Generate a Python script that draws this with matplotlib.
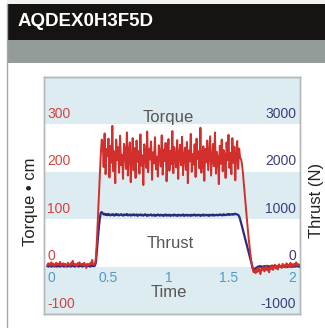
import numpy as np
import matplotlib
matplotlib.use("Agg")
import matplotlib.pyplot as plt
from matplotlib.patches import Rectangle
from matplotlib.lines import Line2D
from matplotlib.transforms import blended_transform_factory

plt.rcParams["font.family"] = ["Liberation Sans", "DejaVu Sans"]

TITLE = "AQDEX0H3F5D"
SAMPLE_STEP = 0.008  # seconds between samples

# Torque (N·cm) samples
torque_ncm = [
    # idle
    4, 7, 2, 5, 9, 3, 6, 1, 5, 8, 3, 6, 4, 10, 2, 5, 7, 3, 6, 0,
    4, 8, 5, 2, 7, 4, 12, 3, 6, 5, 1, 7, 4, 9, 3, 5, 6, 2, 8, 4,
    -3, 6, 5, 3, 7, 4, 14, 5, 3, 6,
    # ramp up
    18, 55, 100, 145, 190, 235, 268,
    # working
    262, 210, 281, 195, 248, 233, 270, 188, 255, 219, 297, 201,
    243, 176, 268, 225, 252, 198, 276, 214, 236, 185, 259, 247,
    206, 283, 192, 240, 262, 178, 229, 271, 203, 250, 187, 266,
    221, 244, 196, 279, 213, 235, 172, 258, 230, 208, 285, 199,
    249, 226, 264, 183, 241, 218, 273, 205, 232, 190, 256, 238,
    211, 277, 194, 247, 223, 261, 180, 236, 269, 202, 244, 216,
    286, 197, 252, 228, 209, 267, 185, 239, 257, 214, 274, 193,
    233, 251, 204, 263, 176, 245, 222, 280, 200, 237, 215, 258,
    189, 270, 227, 243, 207, 293, 198, 231, 254, 181, 248, 220,
    266, 203, 238, 275, 192, 225, 259, 212, 283, 196, 242, 229,
    174, 255, 217, 268, 201, 246, 234, 187, 262, 224, 278, 208,
    240, 195, 271, 219, 253, 182, 236, 265, 206, 249, 230, 226,
    # ramp down
    215, 195, 172, 148, 124, 100, 78, 56, 37, 20, 6, -5, -12,
    # idle
    -8, -14, -5, -11, -2, -9, -16, -4, -7, -1, -10, -6, 2, -8, -3,
    -12, 0, -5, 3, -7, -2, 4, -4, 1, -6, 5, -1, 2, -3, 6,
    0, 3, -2, 7, 1, 4, -1, 8, 2, 5, 0, 6, 3, 9, 2, 5, 4,
]

# Thrust (N) samples
thrust_n = [
    # idle
    10, 0, 20, 10, 0, 10, 20, 0, 10, 10, 0, 20, 10, 0, 10, 20, 10, 0, 10, 20,
    0, 10, 10, 20, 0, 10, 20, 10, 0, 10, 10, 20, 0, 10, 20, 10, 0, 10, 20, 10,
    0, 10, 10, 20, 0, 10, 20, 10, 10, 20,
    # ramp up
    90, 330, 580, 820, 1010, 1130, 1150,
    # working
    1125, 1100, 1115, 1090, 1105, 1085, 1110, 1095, 1080, 1100,
    1090, 1105, 1075, 1095, 1110, 1085, 1100, 1080, 1095, 1105,
    1090, 1075, 1100, 1085, 1095, 1110, 1080, 1090, 1100, 1075,
    1095, 1085, 1105, 1080, 1090, 1100, 1070, 1095, 1085, 1100,
    1080, 1095, 1075, 1090, 1105, 1085, 1070, 1095, 1080, 1090,
    1100, 1075, 1085, 1095, 1070, 1090, 1080, 1100, 1085, 1075,
    1095, 1080, 1090, 1070, 1085, 1100, 1075, 1090, 1080, 1095,
    1070, 1085, 1090, 1075, 1100, 1080, 1085, 1070, 1095, 1080,
    1090, 1075, 1085, 1100, 1070, 1090, 1080, 1095, 1075, 1085,
    1090, 1070, 1095, 1080, 1085, 1100, 1075, 1090, 1080, 1095,
    1085, 1070, 1090, 1080, 1100, 1075, 1085, 1095, 1080, 1090,
    1070, 1095, 1085, 1080, 1100, 1075, 1090, 1085, 1095, 1080,
    1090, 1100, 1085, 1095, 1080, 1105, 1090, 1085, 1100, 1095,
    1110, 1090, 1100, 1105, 1095, 1110, 1100, 1115, 1105, 1100,
    # ramp down
    1090, 1060, 1000, 925, 845, 765, 685, 605, 525, 445,
    365, 285, 205, 125, 45, -30, -60, -50, -35, -20,
    # idle
    -10, 5, -5, 10, 0, -15, 5, 10, -5, 0,
    15, -10, 5, 0, 10, -5, 5, 15, 0, -10,
    10, 5, -5, 10, 0, 5, 15, -5, 10, 0,
    5, -10, 10, 15, 0, 5, -5, 10, 5, 0,
    15, 5, 10, 0,
]

time_ticks = [0, 0.5, 1, 1.5, 2]
time_tick_labels = ["0", "0.5", "1", "1.5", "2"]
torque_ticks = [-100, 0, 100, 200, 300]
thrust_ticks = [-1000, 0, 1000, 2000, 3000]

RED = "#d22f2c"
NAVY = "#2b2a7c"
RED_TXT = "#d8413d"
NAVY_TXT = "#3e3d80"
XTICK_TXT = "#4f9cc3"
GRAY_TXT = "#5a5652"
BAND = "#dcecf1"

W, H = 325, 328
fig = plt.figure(figsize=(W / 100, H / 100), dpi=100)
fig.patch.set_facecolor("white")


def fx(px):
    return px / W


def fy(py):
    return 1 - py / H


# page chrome: header bar, grey strip, panel
fig.patches.append(Rectangle((fx(7), fy(63)), 1, fy(0) - fy(63) + 1, transform=fig.transFigure,
                             facecolor="#f2f2f1", edgecolor="none", zorder=0))
fig.patches.append(Rectangle((fx(7), fy(40)), 1, fy(4) - fy(40), transform=fig.transFigure,
                             facecolor="#161412", edgecolor="none", zorder=1))
fig.patches.append(Rectangle((fx(7), fy(63)), 1, fy(40) - fy(63), transform=fig.transFigure,
                             facecolor="#949c99", edgecolor="none", zorder=1))
fig.lines.append(Line2D([fx(7), fx(7)], [fy(328), fy(4)], transform=fig.transFigure,
                        color="#a8a8a8", lw=1.0, zorder=2))
fig.text(fx(18), fy(22), TITLE, color="white", fontsize=13.5, fontweight="bold",
         ha="left", va="center")

# plot area
left, right, top, bottom = 44, 300, 77, 314
rect = [fx(left), fy(bottom), fx(right) - fx(left), fy(top) - fy(bottom)]
ax_th = fig.add_axes(rect, zorder=1)
ax = fig.add_axes(rect, zorder=2, sharex=ax_th)
ax.patch.set_visible(False)

x_min, x_max = -0.029, 2.087
ax.set_xlim(x_min, x_max)
ax.set_ylim(-100, 400)
ax_th.set_ylim(-1000, 4000)

# alternating bands
ax_th.set_facecolor("white")
for lo in (-1000, 1000, 3000):
    ax_th.axhspan(lo, lo + 1000, color=BAND, lw=0, zorder=0)

t_torque = np.arange(len(torque_ncm)) * SAMPLE_STEP
t_thrust = np.arange(len(thrust_n)) * SAMPLE_STEP
ax_th.plot(t_thrust, thrust_n, color=NAVY, lw=1.6, zorder=3)
ax.plot(t_torque, torque_ncm, color=RED, lw=1.4, zorder=3)

for a in (ax, ax_th):
    a.set_xticks([])
    a.set_yticks([])
    for s in a.spines.values():
        s.set_color("#b4b8b8")
        s.set_linewidth(1.0)

# in-plot tick labels
lx = blended_transform_factory(ax.transAxes, ax.transData)
for v in torque_ticks:
    ax.annotate(str(v), xy=(0.012, v), xycoords=lx, xytext=(0, 2.5), textcoords="offset points",
                ha="left", va="bottom", color=RED_TXT, fontsize=10)
rx = blended_transform_factory(ax_th.transAxes, ax_th.transData)
for v in thrust_ticks:
    ax_th.annotate(str(v), xy=(0.985, v), xycoords=rx, xytext=(0, 2.5), textcoords="offset points",
                   ha="right", va="bottom", color=NAVY_TXT, fontsize=10, zorder=5)

for v, lab in zip(time_ticks, time_tick_labels):
    if v == time_ticks[0]:
        xy, ha = (v, 0), "left"
        tr = ax.transData
    elif v == time_ticks[-1]:
        xy, ha = (0.985, 0), "right"
        tr = lx
    else:
        xy, ha = (v, 0), "center"
        tr = ax.transData
    ax.annotate(lab, xy=xy, xycoords=tr, xytext=(0, -3), textcoords="offset points",
                ha=ha, va="top", color=XTICK_TXT, fontsize=10)

ax.text(1.0, 314, "Torque", ha="center", va="center", color=GRAY_TXT, fontsize=12)
ax.text(1.015, 48, "Thrust", ha="center", va="center", color=GRAY_TXT, fontsize=12)
ax.text(1.0, -55, "Time", ha="center", va="center", color=GRAY_TXT, fontsize=12)

fig.text(fx(30), fy(202), "Torque \u2022 cm", rotation=90, ha="center", va="center",
         color="#222222", fontsize=12)
fig.text(fx(316), fy(200), "Thrust (N)", rotation=90, ha="center", va="center",
         color="#222222", fontsize=12)

fig.savefig("out.png", dpi=100)
